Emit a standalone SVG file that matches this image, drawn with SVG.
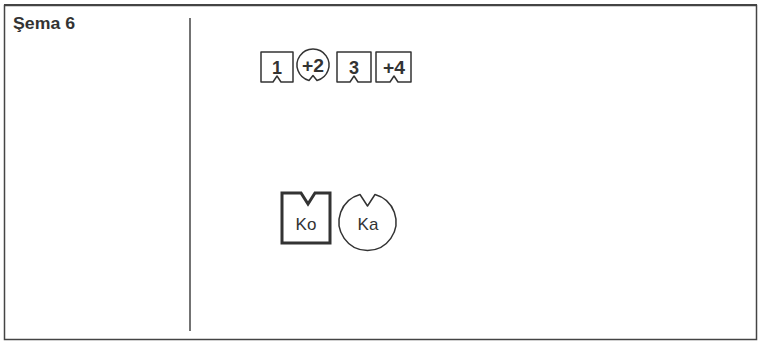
<svg xmlns="http://www.w3.org/2000/svg" width="761" height="344" viewBox="0 0 761 344">
<style>
.frame{fill:none;stroke:#444;stroke-width:1.5}
.sh{fill:#fff;stroke:#333;stroke-width:1.5;stroke-linejoin:round}
.thick{fill:#fff;stroke:#333;stroke-width:3;stroke-linejoin:miter}
.num{font-family:"Liberation Sans",Arial,sans-serif;font-size:18px;font-weight:bold;fill:#333;text-anchor:middle}
.lab{font-family:"Liberation Sans",Arial,sans-serif;font-size:17px;fill:#333;text-anchor:middle}
.title{font-family:"Liberation Sans",Arial,sans-serif;font-size:16px;font-weight:bold;fill:#333}
</style>
<rect width="761" height="344" fill="#fff"/>
<g id="frame">
<rect class="frame" x="4.5" y="5.5" width="752" height="334"/>
<line x1="4" y1="5" x2="757" y2="5" stroke="#444" stroke-width="2"/>
<line x1="190" y1="18" x2="190" y2="331" stroke="#444" stroke-width="1.5"/>
<text class="title" x="13" y="29" textLength="62" lengthAdjust="spacingAndGlyphs">Şema 6</text>
</g>
<g id="n1">
<path class="sh" d="M261,52 H293 V82 H281 L277,76 L273,82 H261 Z"/>
<text class="num" x="277" y="74">1</text>
</g>
<g id="n2">
<path class="sh" d="M309,80.5 A16,16 0 1 1 317,80.5 L313,75.5 Z"/>
<text class="num" x="313" y="72" textLength="22" lengthAdjust="spacingAndGlyphs">+2</text>
</g>
<g id="n3">
<path class="sh" d="M337,52 H371 V82 H358 L354,76 L350,82 H337 Z"/>
<text class="num" x="354" y="74">3</text>
</g>
<g id="n4">
<path class="sh" d="M376,52 H411 V82 H398 L394,76 L390,82 H376 Z"/>
<text class="num" x="394" y="74" textLength="22" lengthAdjust="spacingAndGlyphs">+4</text>
</g>
<g id="ko">
<path class="thick" d="M282,193 H301 L308,204 L315,193 H330 V243 H282 Z"/>
<text class="lab" x="306" y="230">Ko</text>
</g>
<g id="ka">
<path class="sh" d="M375,194.5 A28.5,28.5 0 1 1 360,194.5 L367.5,206 Z"/>
<text class="lab" x="368" y="230">Ka</text>
</g>
<g id="connectors"></g>
</svg>
